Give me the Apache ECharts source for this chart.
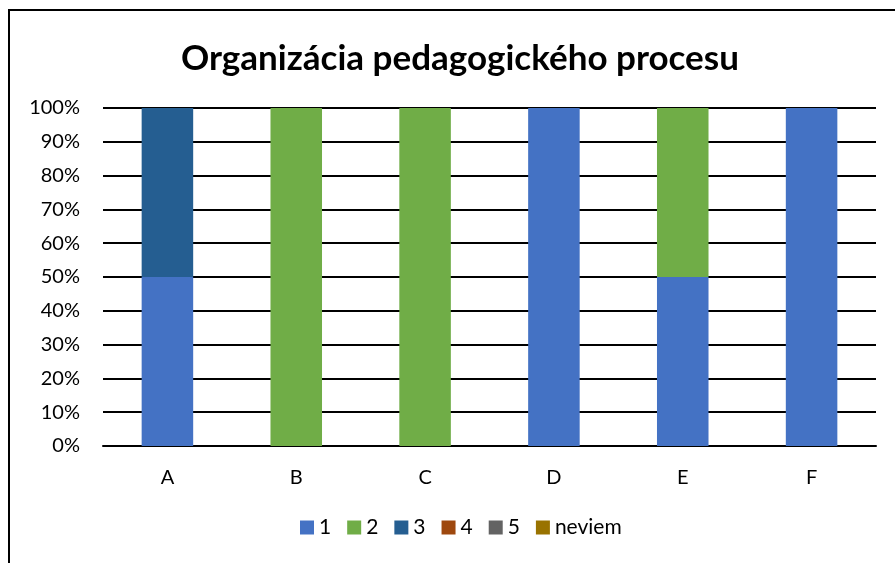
<!DOCTYPE html>
<html>
<head>
<meta charset="utf-8">
<script src="https://cdn.jsdelivr.net/npm/echarts@6/dist/echarts.min.js"></script>
<style>
  html, body { margin: 0; padding: 0; background: #fff; overflow: hidden; }
  #frame { position: absolute; left: 8px; top: 9px; width: 1000px; height: 700px; border: 2px solid #000; }
  #chart { position: absolute; left: 0; top: 0; width: 895px; height: 563px; }
</style>
</head>
<body>
<div id="frame"></div>
<div id="chart"></div>
<script>
// kategórie a podiely odpovedí (v %)
const categories = ['A', 'B', 'C', 'D', 'E', 'F'];
const seriesNames = ['1', '2', '3', '4', '5', 'neviem'];
const seriesColors = ['#4472C4', '#70AD47', '#255E91', '#9E480E', '#636363', '#997300'];
const s1 = [50, 0, 0, 100, 50, 100];
const s2 = [0, 100, 100, 0, 50, 0];
const s3 = [50, 0, 0, 0, 0, 0];
const s4 = [0, 0, 0, 0, 0, 0];
const s5 = [0, 0, 0, 0, 0, 0];
const sNeviem = [0, 0, 0, 0, 0, 0];
const seriesValues = [s1, s2, s3, s4, s5, sNeviem];

const font = 'Lato, "Open Sans", sans-serif';
const chart = echarts.init(document.getElementById('chart'));

chart.setOption({
  animation: false,
  title: {
    text: 'Organizácia pedagogického procesu',
    left: 176,
    top: 36,
    textStyle: { fontFamily: font, fontSize: 35, fontWeight: 'bold', color: '#000' }
  },
  legend: {
    bottom: 20,
    left: 295,
    itemWidth: 14,
    itemHeight: 14,
    itemGap: 16,
    icon: 'rect',
    textStyle: { fontFamily: font, fontSize: 21, color: '#000', padding: [0, 0, 0, 0] },
    data: seriesNames
  },
  grid: { left: 103, right: 19, top: 108, bottom: 117 },
  xAxis: {
    type: 'category',
    data: categories,
    axisTick: { show: false },
    axisLine: { lineStyle: { color: '#000', width: 2 } },
    axisLabel: { fontFamily: font, fontSize: 20, color: '#000', margin: 22 }
  },
  yAxis: {
    type: 'value',
    min: 0,
    max: 100,
    interval: 10,
    axisLine: { show: false },
    axisLabel: {
      fontFamily: font, fontSize: 20, color: '#000', margin: 23,
      formatter: function (v) { return v + '%'; }
    },
    splitLine: { lineStyle: { color: '#000', width: 2 } }
  },
  series: seriesNames.map(function (name, i) {
    return {
      name: name,
      type: 'bar',
      stack: 'total',
      barWidth: '40%',
      itemStyle: { color: seriesColors[i] },
      data: seriesValues[i]
    };
  })
});
</script>
</body>
</html>
